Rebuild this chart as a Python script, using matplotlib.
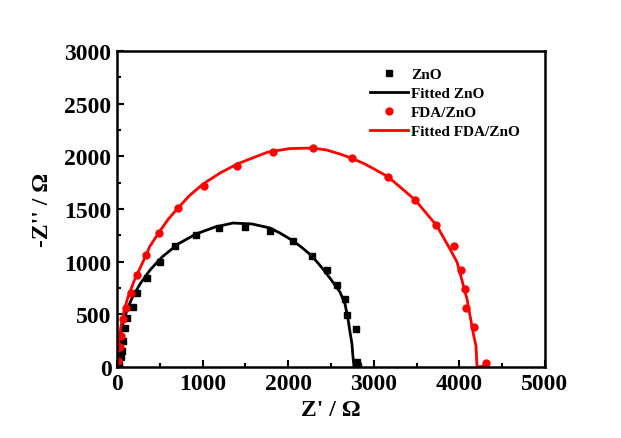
import matplotlib.pyplot as plt
from matplotlib.ticker import MultipleLocator

plt.rcParams['font.family'] = ['Liberation Serif', 'DejaVu Serif']
plt.rcParams['font.weight'] = 'bold'

# ZnO - измеренные точки
zno_x = [23, 47, 58, 75, 93, 117, 187, 234, 350, 502, 678, 923, 1192, 1495,
         1787, 2056, 2278, 2453, 2570, 2664, 2687, 2792, 2804, 2815]
zno_y = [19, 95, 152, 247, 370, 465, 570, 703, 845, 997, 1149, 1253, 1320, 1329,
         1291, 1196, 1054, 921, 778, 645, 494, 361, 47, 9]

# ZnO - подгонка
fit_zno_x = [0, 12, 35, 70, 117, 175, 269, 386, 526, 713, 923, 1145, 1355, 1577,
             1787, 1904, 2021, 2138, 2278, 2407, 2512, 2605, 2664, 2699, 2722,
             2745, 2757, 2769]
fit_zno_y = [0, 152, 285, 418, 541, 655, 788, 921, 1044, 1168, 1263, 1329, 1367,
             1358, 1320, 1272, 1215, 1149, 1054, 930, 817, 712, 598, 456, 332,
             218, 95, 0]

# FDA/ZnO - измеренные точки
fda_x = [12, 35, 47, 70, 105, 164, 239, 339, 491, 713, 1020, 1402, 1826, 2293,
         2749, 3169, 3485, 3727, 3940, 4019, 4065, 4077, 4167, 4307]
fda_y = [57, 190, 294, 456, 560, 703, 869, 1059, 1277, 1510, 1721, 1913, 2038,
         2076, 1984, 1807, 1590, 1351, 1149, 918, 738, 563, 380, 35]

# FDA/ZnO - подгонка
fit_fda_x = [0, 12, 23, 47, 82, 129, 199, 292, 386, 502, 600, 713, 850, 1005,
             1200, 1402, 1600, 1764, 2021, 2290, 2450, 2605, 2750, 2897, 3166,
             3481, 3738, 3890, 3972, 4089, 4159, 4194, 4206, 4300]
fit_fda_y = [0, 152, 266, 389, 532, 665, 816, 978, 1149, 1291, 1405, 1510, 1630,
             1737, 1840, 1927, 1990, 2041, 2074, 2079, 2060, 2022, 1980, 1927,
             1807, 1588, 1339, 1120, 997, 646, 332, 199, 0, 10]

fig = plt.figure(figsize=(6.21, 4.39), dpi=100)
ax = fig.add_axes([0.1884, 0.1617, 0.6892, 0.7198])

ax.plot(zno_x, zno_y, 's', color='black', markersize=4.5, label='ZnO')
ax.plot(fit_zno_x, fit_zno_y, '-', color='black', linewidth=2,
        solid_joinstyle='round', label='Fitted ZnO')
ax.plot(fda_x, fda_y, 'o', color='red', markersize=5, label='FDA/ZnO')
ax.plot(fit_fda_x, fit_fda_y, '-', color='red', linewidth=2,
        solid_joinstyle='round', label='Fitted FDA/ZnO')

ax.set_xlim(0, 5000)
ax.set_ylim(0, 3000)
ax.xaxis.set_major_locator(MultipleLocator(1000))
ax.xaxis.set_minor_locator(MultipleLocator(500))
ax.yaxis.set_major_locator(MultipleLocator(500))
ax.yaxis.set_minor_locator(MultipleLocator(250))
ax.tick_params(which='both', direction='in', width=1.5, labelsize=17, pad=4)
ax.tick_params(which='major', length=5)
ax.tick_params(which='minor', length=3)
for s in ax.spines.values():
    s.set_linewidth(1.8)

ax.set_xlabel("Z' / Ω", fontsize=17, fontweight='bold', labelpad=4)
ax.set_ylabel("-Z'' / Ω", fontsize=17, fontweight='bold', labelpad=8)

leg = ax.legend(loc='upper left', bbox_to_anchor=(0.565, 0.982), frameon=False,
                fontsize=11, handlelength=2.5, handletextpad=0.2,
                labelspacing=0.35, borderpad=0.2)
for t in leg.get_texts():
    t.set_fontweight('bold')

plt.savefig('out.png', dpi=100)
